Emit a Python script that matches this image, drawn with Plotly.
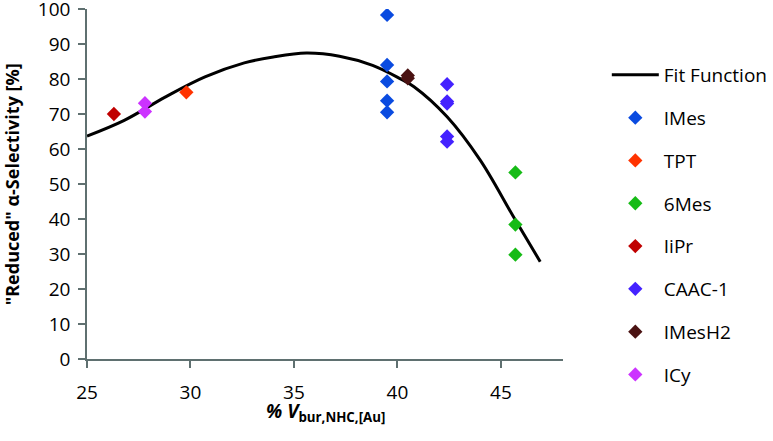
import plotly.graph_objects as go

# Fit curve
fit_x = [25.0, 26.8, 28.8, 30.7, 32.6, 34.0, 35.6, 37.2, 38.8, 40.1, 40.8, 42.4, 44.0, 45.6, 46.9]
fit_y = [63.7, 68.2, 74.9, 80.6, 84.6, 86.3, 87.4, 86.5, 83.9, 80.2, 77.8, 69.2, 56.8, 40.7, 27.8]

series_names = ["IMes", "TPT", "6Mes", "IiPr", "CAAC-1", "IMesH2", "ICy"]
series_x = [
    [39.5, 39.5, 39.5, 39.5, 39.5],
    [29.8],
    [45.7, 45.7, 45.7],
    [26.3],
    [42.4, 42.4, 42.4, 42.4, 42.4],
    [40.5, 40.5],
    [27.8, 27.8],
]
series_y = [
    [98.3, 84.0, 79.3, 73.8, 70.5],
    [76.2],
    [53.3, 38.4, 29.8],
    [70.0],
    [78.5, 73.6, 73.0, 63.6, 62.1],
    [81.0, 80.2],
    [73.1, 70.7],
]
series_colors = ["#0a4be0", "#ff3300", "#16bb16", "#c00000", "#4422ff", "#4a1212", "#cc33ff"]

x_ticks = [25, 30, 35, 40, 45]
y_ticks = [0, 10, 20, 30, 40, 50, 60, 70, 80, 90, 100]

FONT = "Open Sans"
fig = go.Figure()
fig.add_trace(go.Scatter(x=fit_x, y=fit_y, mode="lines", name="Fit Function",
                         line=dict(color="black", width=3, shape="spline"),
                         legendgroup="fit"))
for n, xs, ys, c in zip(series_names, series_x, series_y, series_colors):
    fig.add_trace(go.Scatter(x=xs, y=ys, mode="markers", name=n, legendgroup=n,
                             marker=dict(symbol="diamond", size=11, color=c, line=dict(width=0))))

axis_col = "#5f7070"
fig.update_layout(
    width=773, height=441,
    margin=dict(l=87, r=210, t=9, b=82),
    paper_bgcolor="white", plot_bgcolor="white",
    font=dict(family=FONT, size=19, color="black"),
    showlegend=True,
    legend=dict(xref="container", yref="container", x=0.785, y=0.873,
                xanchor="left", yanchor="top", maxheight=430,
                tracegroupgap=15.1, itemwidth=47, font=dict(size=19),
                bgcolor="rgba(0,0,0,0)"),
    xaxis=dict(range=[25, 48], tickvals=x_ticks, showgrid=False, zeroline=False,
               showline=True, linecolor=axis_col, linewidth=1.5,
               ticks="outside", ticklen=7, tickcolor=axis_col, tickwidth=1.5,
               ticklabelstandoff=8, automargin=False),
    yaxis=dict(range=[0, 100], tickvals=y_ticks, showgrid=False, zeroline=False,
               showline=True, linecolor=axis_col, linewidth=1.5,
               ticks="outside", ticklen=7, tickcolor=axis_col, tickwidth=1.5,
               ticklabelstandoff=4, ticklabeloverflow="allow", automargin=False),
    annotations=[
        dict(text='<b>"Reduced" α-Selectivity [%]</b>', textangle=-90,
             xref="paper", yref="paper", x=-0.157, y=0.5,
             xanchor="center", yanchor="middle", showarrow=False,
             font=dict(size=18)),
        dict(text="<b><i>% V</i><sub>bur,NHC,[Au]</sub></b>",
             xref="paper", yref="paper", x=0.5, y=-0.106,
             xanchor="center", yanchor="top", showarrow=False,
             font=dict(size=19)),
    ],
)
fig.write_html("out.html")
